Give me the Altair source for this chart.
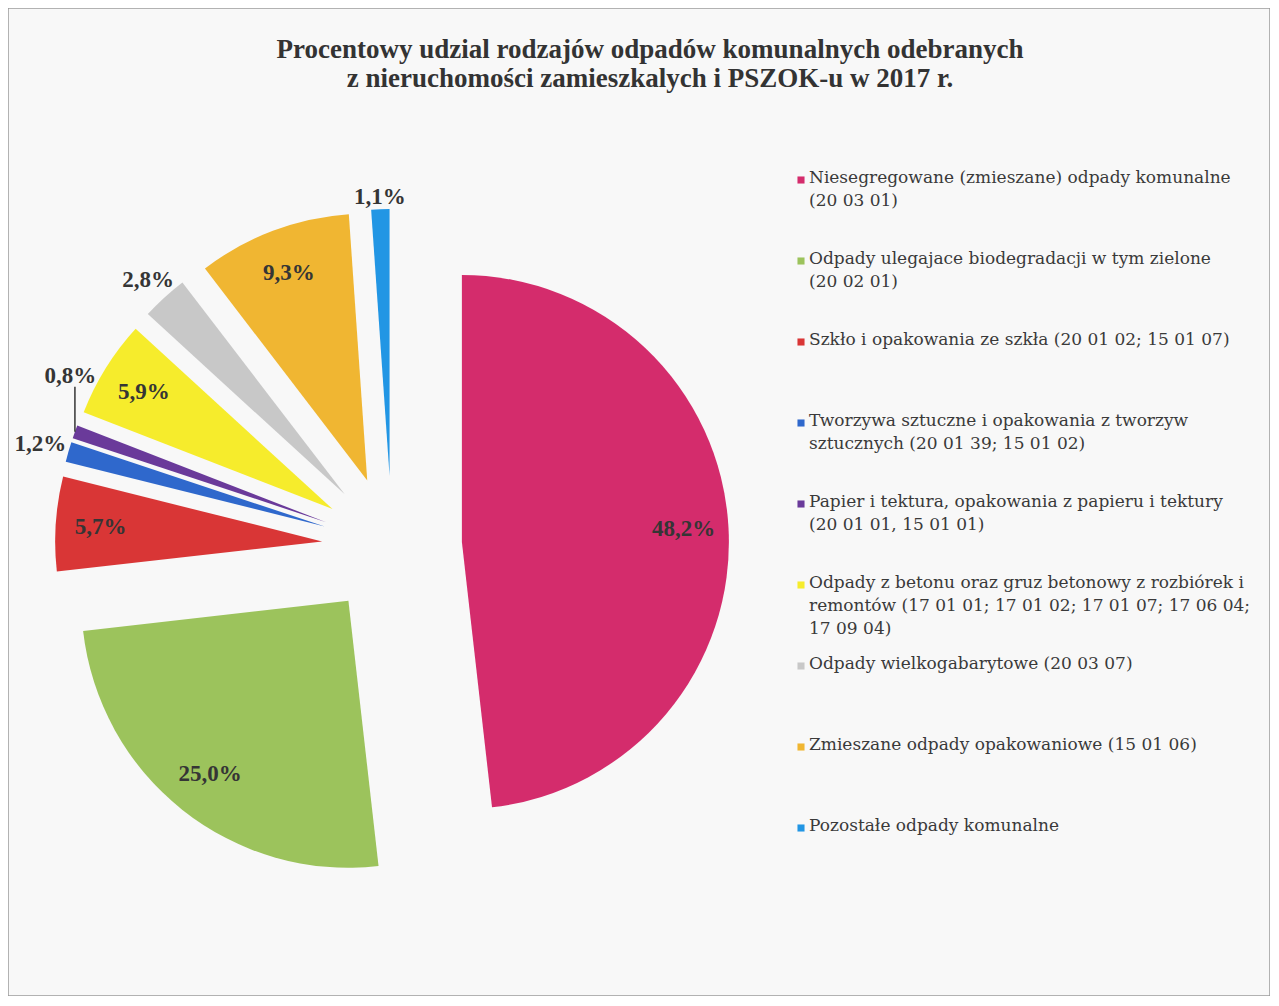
import altair as alt
import pandas as pd

# ---------------- data ----------------
title_lines = [
    "Procentowy udzial rodzajów odpadów komunalnych odebranych",
    "z nieruchomości zamieszkalych i PSZOK-u w 2017 r.",
]

categories = [
    "Niesegregowane (zmieszane) odpady komunalne\n(20 03 01)",
    "Odpady ulegajace biodegradacji w tym zielone\n(20 02 01)",
    "Szkło i opakowania ze szkła (20 01 02; 15 01 07)",
    "Tworzywa sztuczne i opakowania z tworzyw\nsztucznych  (20 01 39; 15 01 02)",
    "Papier i tektura, opakowania z papieru i tektury\n(20 01 01, 15 01 01)",
    "Odpady z betonu oraz gruz betonowy z rozbiórek i\nremontów (17 01 01; 17 01 02; 17 01 07; 17 06 04;\n17 09 04)",
    "Odpady wielkogabarytowe (20 03 07)",
    "Zmieszane odpady opakowaniowe (15 01 06)",
    "Pozostałe odpady komunalne",
]

values = [48.2, 25.0, 5.7, 1.2, 0.8, 5.9, 2.8, 9.3, 1.1]

colors = [
    "#D42C6C",  # pink
    "#9CC35C",  # green
    "#D93636",  # red
    "#2F68CC",  # blue
    "#6A3A9A",  # purple
    "#F6EC2C",  # yellow
    "#C8C8C8",  # gray
    "#F0B632",  # orange
    "#2296E4",  # light blue
]

# ---------------- layout (style) ----------------
label_nudge_deg = [0, 0, 0, 0, 10, 0, 0, 0, 0]   # moved label with a leader line
CX, CY = 384, 538      # pie centre (px, inside the view)
R = 267                # pie radius
EXPLODE = 70           # distance each slice is pulled out
LEG_X, LEG_Y0, LEG_STEP = 793, 172, 81

df = pd.DataFrame({
    "order": list(range(len(categories))),
    "category": categories,
    "value": values,
    "color": colors,
    "nudge": label_nudge_deg,
})

base = (
    alt.Chart(df)
    .transform_window(cum="sum(value)", sort=[alt.SortField("order")])
    .transform_calculate(
        t0="(datum.cum - datum.value) / 100 * 2 * PI",
        t1="datum.cum / 100 * 2 * PI",
        mid="(datum.cum - datum.value / 2) / 100 * 2 * PI",
        vx=f"{CX} + {EXPLODE} * sin(datum.mid)",
        vy=f"{CY} - {EXPLODE} * cos(datum.mid)",
        ox=f"datum.vx + {R} * sin(datum.mid)",
        oy=f"datum.vy - {R} * cos(datum.mid)",
        label="replace(format(datum.value, '.1f'), '.', ',') + '%'",
        inside="datum.value >= 5",
        la="datum.mid + datum.nudge * PI / 180",
        ld=f"datum.inside ? 222 : {R} + 12 + 18 * abs(sin(datum.la))",
        lx="datum.vx + datum.ld * sin(datum.la)",
        ly="datum.vy - datum.ld * cos(datum.la)",
        ly2="datum.ly + 11",
        legy=f"{LEG_Y0} + {LEG_STEP} * datum.order",
        legty="datum.legy - 10",
    )
)

X = lambda f: alt.X(f, type="quantitative", scale=None, axis=None)
Y = lambda f: alt.Y(f, type="quantitative", scale=None, axis=None)

arcs = base.mark_arc(outerRadius=R).encode(
    x=X("vx"),
    y=Y("vy"),
    theta=alt.Theta("t0:Q", scale=None, stack=False),
    theta2="t1:Q",
    color=alt.Color("color:N", scale=None, legend=None),
)

labels = base.mark_text(
    font="Liberation Serif", fontWeight="bold", fontSize=23, color="#353535",
    align="center", baseline="middle",
).encode(x=X("lx"), y=Y("ly"), text="label:N")

leader = base.transform_filter("datum.nudge != 0").mark_rule(
    color="#353535", strokeWidth=1.5
).encode(x=X("ox"), y=Y("oy"), y2="ly2:Q")

leg_sq = base.mark_square(size=50, opacity=1).encode(
    x=alt.value(LEG_X),
    y=Y("legy"),
    color=alt.Color("color:N", scale=None, legend=None),
)

leg_txt = base.mark_text(
    font="DejaVu Serif", fontSize=17, color="#3a3a3a", align="left",
    baseline="top", lineBreak="\n", lineHeight=23,
).encode(x=alt.value(LEG_X + 8), y=Y("legty"), text="category:N")

tdf = pd.DataFrame({"line": title_lines, "i": list(range(len(title_lines)))})
title = (
    alt.Chart(tdf)
    .transform_calculate(ty="50 + 29 * datum.i")
    .mark_text(font="Liberation Serif", fontWeight="bold", fontSize=27,
               color="#333333", align="center", baseline="alphabetic")
    .encode(x=alt.value(642), y=Y("ty"), text="line:N")
)

chart = (
    alt.layer(arcs, labels, leader, leg_sq, leg_txt, title)
    .properties(width=1262, height=988, padding=0, background="#f8f8f8")
    .configure_view(stroke="#9a9a9a", strokeWidth=1.5)
)

chart.save("out.html", embed_options={"renderer": "svg", "actions": False})
